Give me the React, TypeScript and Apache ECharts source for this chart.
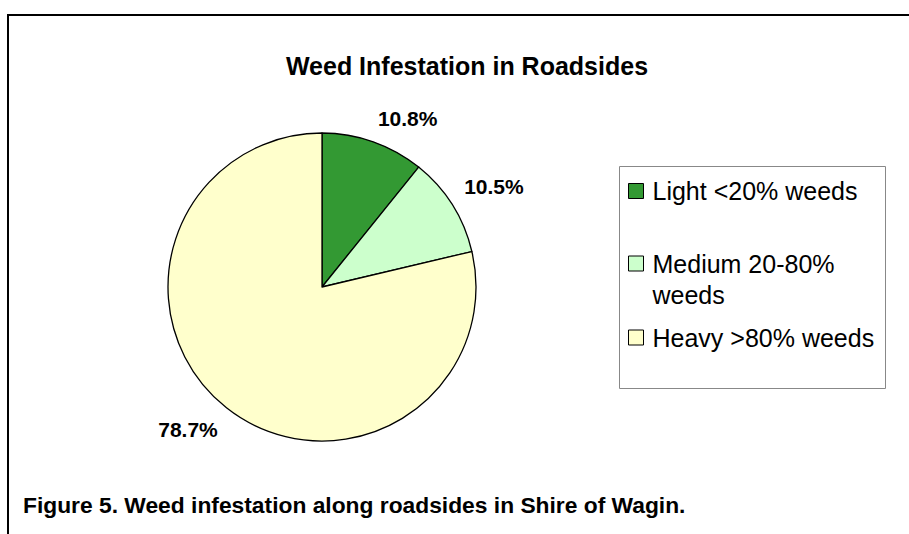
import React, { useEffect, useRef } from "react";
import * as echarts from "echarts";

const categories = ["Light <20% weeds", "Medium 20-80%\nweeds", "Heavy >80% weeds"];
const shares = [10.8, 10.5, 78.7];
const sliceColors = ["#339933", "#CCFFCC", "#FFFFCC"];
const chartTitle = "Weed Infestation in Roadsides";
const caption = "Figure 5. Weed infestation along roadsides in Shire of Wagin.";

const FONT = '"Liberation Sans", Arial, Helvetica, sans-serif';
const CX = 322;
const CY = 287;
const LEGEND_TOPS = [175.5, 217, 322];

export default function App() {
  const ref = useRef<HTMLDivElement>(null);

  useEffect(() => {
    document.body.style.margin = "0";
    if (!ref.current) return;
    const chart = echarts.init(ref.current, null, { renderer: "svg" });

    const legends = categories.map((name, i) => ({
      data: [name],
      orient: "vertical",
      left: 628,
      top: LEGEND_TOPS[i],
      padding: 0,
      itemWidth: 15,
      itemHeight: 15,
      itemGap: 0,
      icon: "rect",
      selectedMode: false,
      // a multi-line entry keeps its first line level with its marker
      formatter: (n: string) => (n.indexOf("\n") >= 0 ? "\n" + n : n),
      itemStyle: { borderColor: "#000", borderWidth: 1 },
      textStyle: {
        fontFamily: FONT,
        fontSize: 25,
        color: "#000",
        lineHeight: 31,
        padding: [0, 0, 0, 4],
      },
    }));

    chart.setOption({
      animation: false,
      backgroundColor: "#fff",
      textStyle: { fontFamily: FONT },
      legend: legends,
      graphic: [
        {
          type: "line",
          shape: { x1: 8, y1: 15, x2: 909, y2: 15 },
          style: { stroke: "#000", lineWidth: 2 },
        },
        {
          type: "line",
          shape: { x1: 8, y1: 14, x2: 8, y2: 534 },
          style: { stroke: "#000", lineWidth: 2 },
        },
        {
          type: "rect",
          shape: { x: 619.5, y: 166.5, width: 266, height: 222 },
          style: { fill: "none", stroke: "#888", lineWidth: 1 },
          z: -1,
        },
        {
          type: "text",
          x: 467,
          y: 65.5,
          style: {
            text: chartTitle,
            fontFamily: FONT,
            fontWeight: "bold",
            fontSize: 25,
            fill: "#000",
            align: "center",
            verticalAlign: "middle",
          },
        },
        {
          type: "text",
          x: 23,
          y: 505,
          style: {
            text: caption,
            fontFamily: FONT,
            fontWeight: "bold",
            fontSize: 22.8,
            fill: "#000",
            align: "left",
            verticalAlign: "middle",
          },
        },
      ],
      series: [
        {
          type: "pie",
          center: [CX, CY],
          radius: 154,
          startAngle: 90,
          clockwise: true,
          avoidLabelOverlap: false,
          data: categories.map((name, i) => ({
            name,
            value: shares[i],
            itemStyle: { color: sliceColors[i] },
          })),
          itemStyle: { borderColor: "#000", borderWidth: 1.3 },
          emphasis: { disabled: true },
          label: {
            show: true,
            position: "outside",
            distanceToLabelLine: 0,
            formatter: (p: any) => p.value.toFixed(1) + "%",
            fontFamily: FONT,
            fontWeight: "bold",
            fontSize: 21,
            lineHeight: 21,
            color: "#000",
          },
          labelLine: { show: false, length: 14, length2: 0 },
          labelLayout: (params: any) => {
            const r = params.labelRect;
            const above = r.y + r.height / 2 < CY;
            return { verticalAlign: above ? "bottom" : "top" };
          },
        },
      ],
    });

    return () => chart.dispose();
  }, []);

  return <div ref={ref} style={{ width: 909, height: 534 }} />;
}
